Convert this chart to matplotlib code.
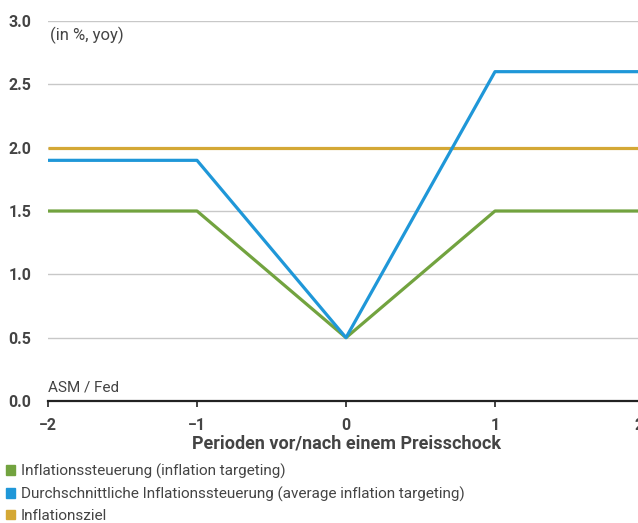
import matplotlib.pyplot as plt
import matplotlib.transforms as mtransforms
from matplotlib.patches import Patch

# Daten
perioden = [-2, -1, 0, 1, 2]
it_werte = [1.5, 1.5, 0.5, 1.5, 1.5]
ait_werte = [1.9, 1.9, 0.5, 2.6, 2.6]
ziel_werte = [2.0, 2.0, 2.0, 2.0, 2.0]
x_ticklabels = ['\u22122', '\u22121', '0', '1', '2']
y_ticks = [0, 0.5, 1.0, 1.5, 2.0, 2.5, 3.0]
labels = ['Inflationssteuerung (inflation targeting)',
          'Durchschnittliche Inflationssteuerung (average inflation targeting)',
          'Inflationsziel']
farben = ['#72a33f', '#1f97d8', '#d4a835']

plt.rcParams['font.family'] = ['Roboto', 'DejaVu Sans']

fig = plt.figure(figsize=(6.38, 5.23), dpi=100)
ax = fig.add_axes([48 / 638, 122 / 523, 596 / 638, 380 / 523])

ax.plot(perioden, ziel_werte, color=farben[2], lw=2.3, zorder=3, solid_capstyle='butt')
ax.plot(perioden, it_werte, color=farben[0], lw=2.3, zorder=4, solid_capstyle='butt')
ax.plot(perioden, ait_werte, color=farben[1], lw=2.3, zorder=5, solid_capstyle='butt')

ax.set_xlim(-2, 2)
ax.set_ylim(0, 3.0)
ax.set_xticks(perioden)
ax.set_xticklabels(x_ticklabels)
ax.set_yticks(y_ticks)
ax.set_yticklabels([f'{v:.1f}' for v in y_ticks])
ax.grid(axis='y', color='#c8c8c8', lw=1)
ax.set_axisbelow(True)
for s in ['top', 'right', 'left']:
    ax.spines[s].set_visible(False)
ax.spines['bottom'].set_color('#222')
ax.spines['bottom'].set_linewidth(1.6)
ax.spines['bottom'].set_zorder(6)
ax.tick_params(axis='y', length=0, pad=12, labelsize=11.5, labelcolor='#444')
ax.tick_params(axis='x', length=4, width=1.2, color='#222', pad=8,
               labelsize=11.5, labelcolor='#444')
for t in ax.get_xticklabels() + ax.get_yticklabels():
    t.set_fontweight('bold')

# letzte Beschriftung "2" leicht nach links, wird am Rand abgeschnitten
lbl = ax.get_xticklabels()[-1]
lbl.set_transform(lbl.get_transform() +
                  mtransforms.ScaledTranslation(-0.05, 0, fig.dpi_scale_trans))

ax.set_xlabel('Perioden vor/nach einem Preisschock', fontsize=13,
              fontweight='bold', color='#444')
ax.xaxis.set_label_coords(298 / 596, -0.088)

ax.text(0.004, 0.985, '(in %, yoy)', transform=ax.transAxes, fontsize=12,
        color='#444', va='top', ha='left')
ax.text(0.0, 0.018, 'ASM / Fed', transform=ax.transAxes, fontsize=11,
        color='#444', va='bottom', ha='left')

handles = [Patch(color=c, label=l) for c, l in zip(farben, labels)]
fig.legend(handles=handles, loc='upper left', bbox_to_anchor=(-0.007, 0.134),
           frameon=False, fontsize=11, handlelength=0.6, handleheight=0.6,
           handletextpad=0.35, labelspacing=0.48, borderaxespad=0.3,
           labelcolor='#444')

fig.savefig('out.png', dpi=100, facecolor='white')
